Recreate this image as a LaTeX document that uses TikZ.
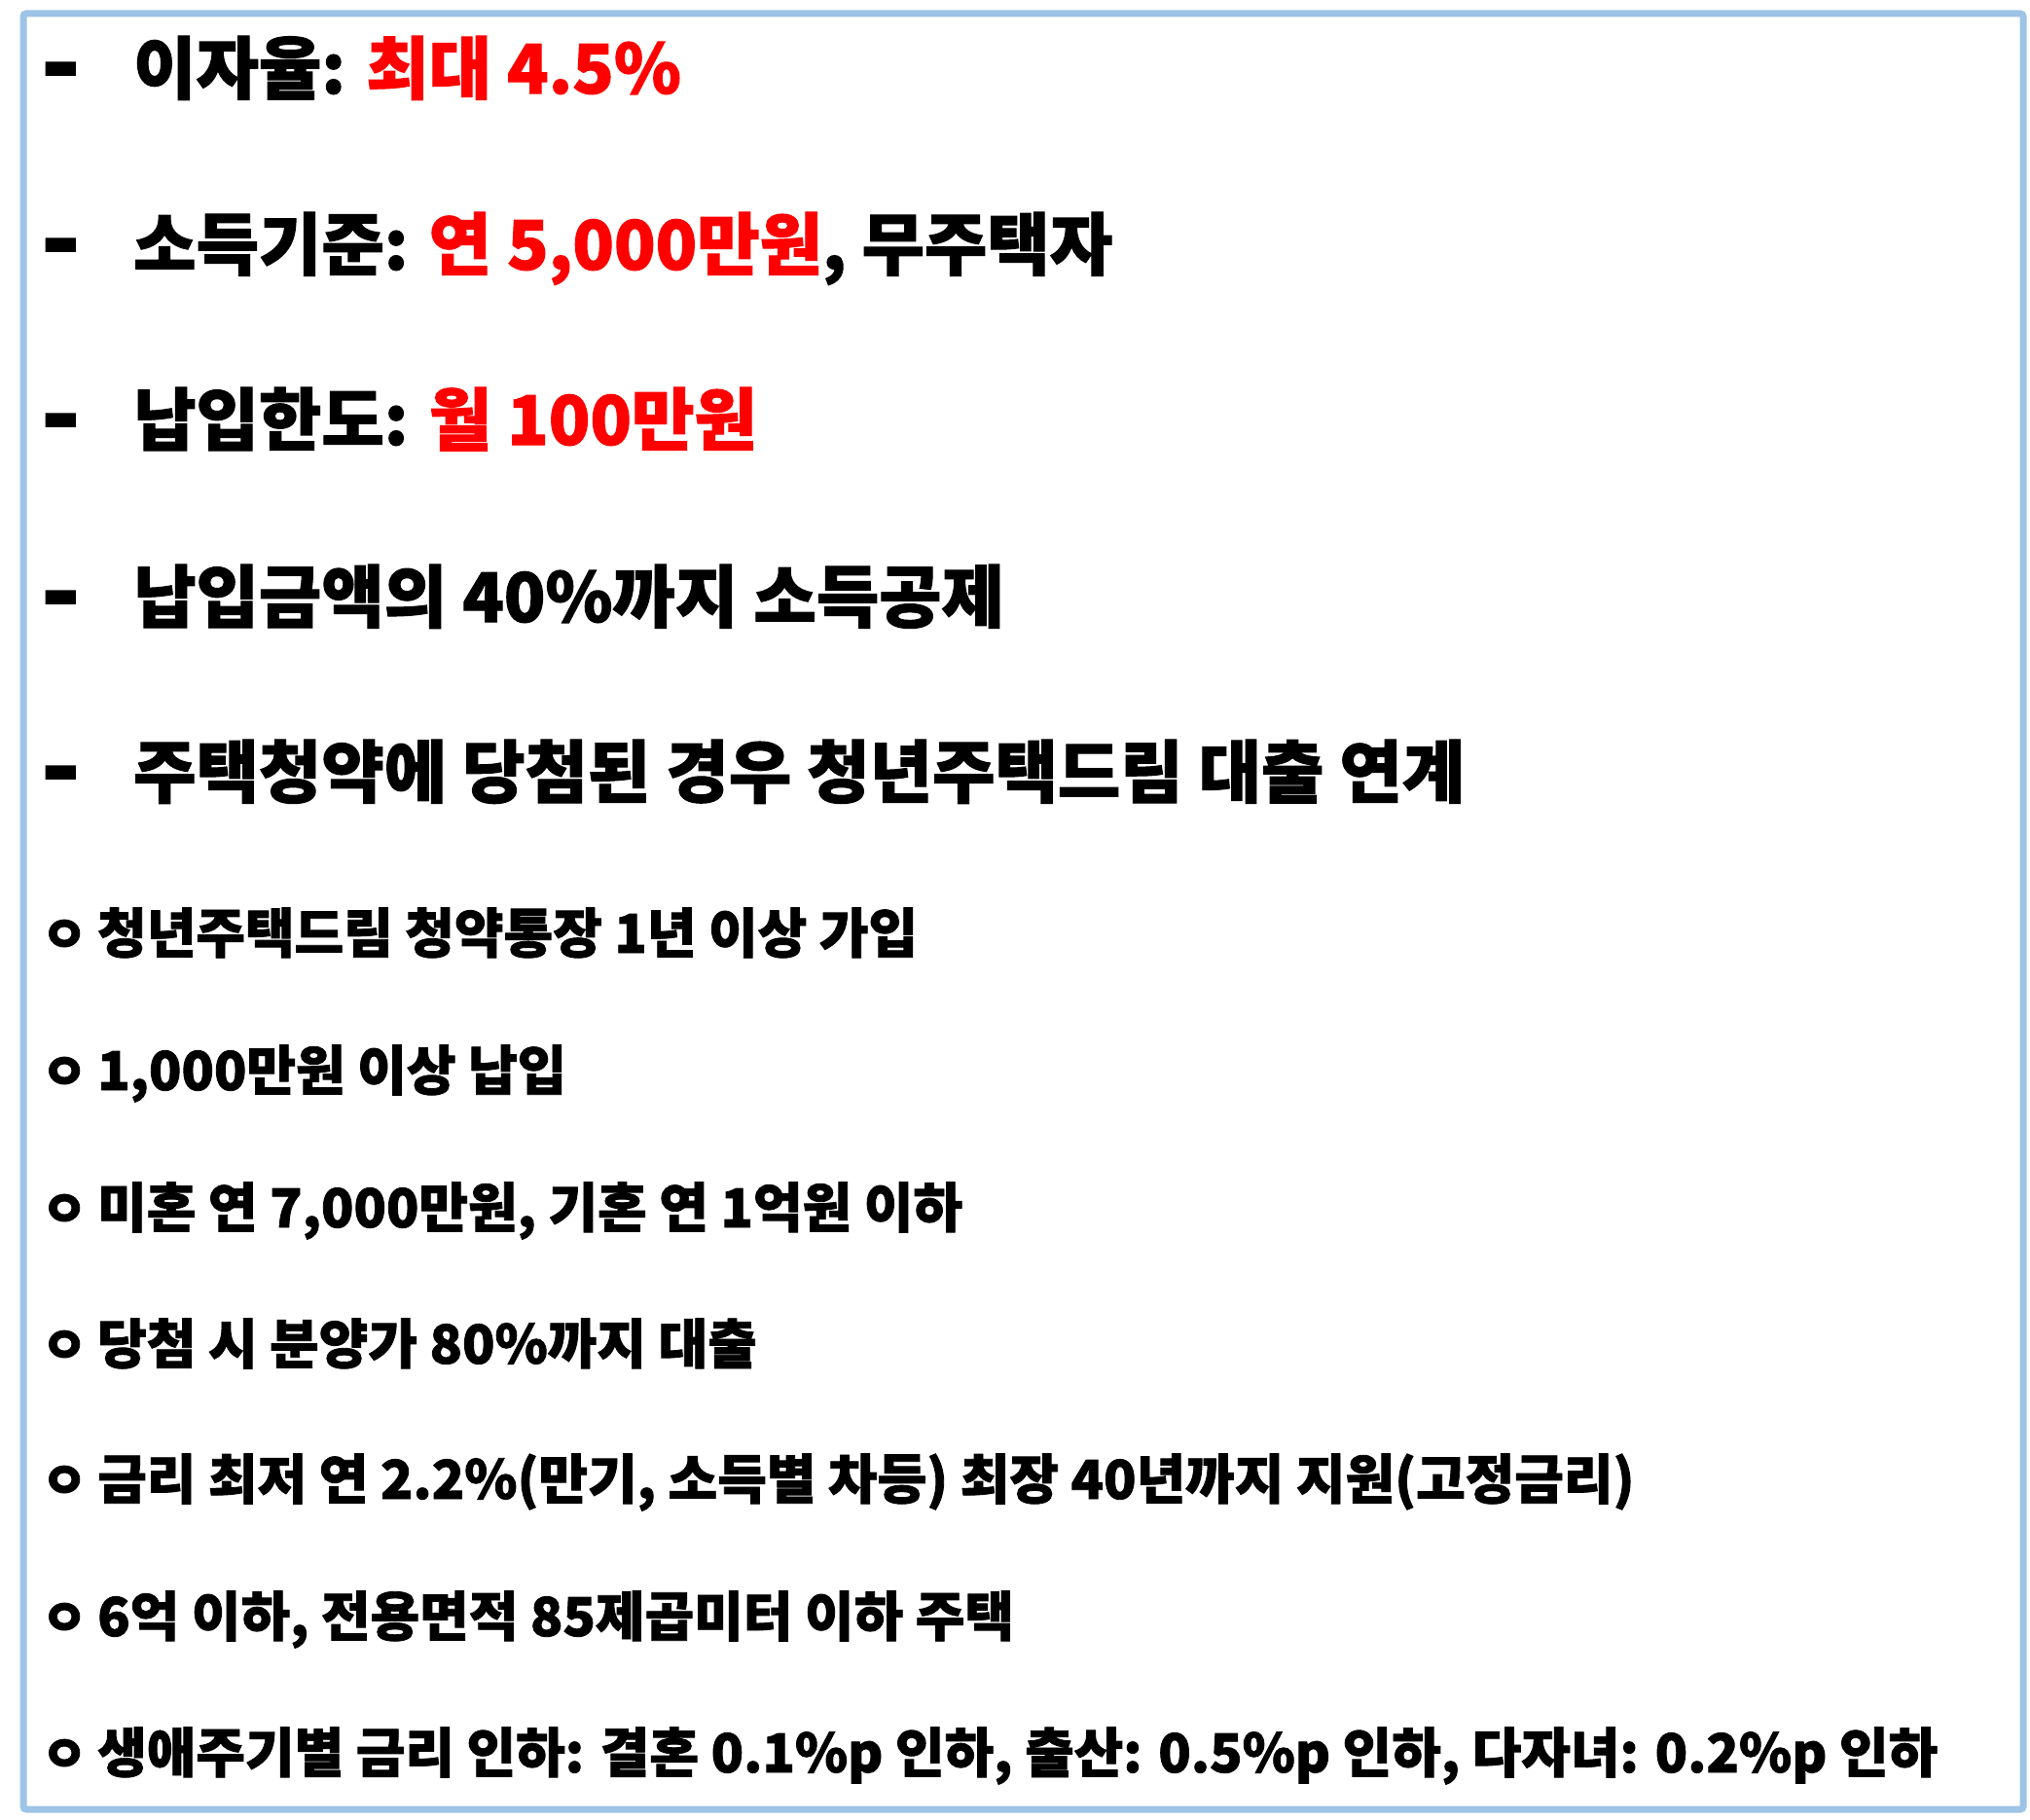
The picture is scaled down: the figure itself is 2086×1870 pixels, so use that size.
\documentclass[tikz,border=0pt]{standalone}
\usepackage{fontspec}
\newfontfamily\krfont{Noto Sans CJK KR}[WordSpace=1.0,BoldFeatures={FakeBold=1.5}]
\definecolor{frameblue}{HTML}{9DC3E6}
\definecolor{hlred}{HTML}{FF0000}
\begin{document}
\begin{tikzpicture}[x=1pt,y=-1pt,
  big/.style={anchor=base west, inner sep=0pt, font=\krfont\bfseries\fontsize{70}{76}\selectfont},
  small/.style={anchor=base west, inner sep=0pt, font=\krfont\bfseries\fontsize{55}{60}\selectfont},
  dashmark/.style={anchor=base west, inner sep=0pt, font=\krfont\bfseries\fontsize{105}{110}\selectfont},
  ring/.style={anchor=base west, inner sep=0pt, font=\krfont\bfseries\fontsize{52}{56}\selectfont},
  frame/.style={draw=frameblue, line width=7pt, rounded corners=3pt}]
\useasboundingbox (0,0) rectangle (2086,1870);
\draw[frame] (24,14) rectangle (2079,1859);
% large lines
\node[dashmark] (d1) at (42,101) {-};
\node[big] (t1) at (137,96) {이자율: \textcolor{hlred}{최대 4.5\%}};
\node[dashmark] (d2) at (42,282) {-};
\node[big] (t2) at (137,277) {소득기준: \textcolor{hlred}{연 5,000만원}, 무주택자};
\node[dashmark] (d3) at (42,462) {-};
\node[big] (t3) at (137,457) {납입한도: \textcolor{hlred}{월 100만원}};
\node[dashmark] (d4) at (42,644) {-};
\node[big] (t4) at (137,639) {납입금액의 40\%까지 소득공제};
\node[dashmark] (d5) at (42,824) {-};
\node[big] (t5) at (137,819) {주택청약에 당첨된 경우 청년주택드림 대출 연계};
% small lines
\node[ring] (b6) at (42,979) {ㅇ};
\node[small] (t6) at (100,979) {청년주택드림 청약통장 1년 이상 가입};
\node[ring] (b7) at (42,1120) {ㅇ};
\node[small] (t7) at (100,1120) {1,000만원 이상 납입};
\node[ring] (b8) at (42,1261) {ㅇ};
\node[small] (t8) at (100,1261) {미혼 연 7,000만원, 기혼 연 1억원 이하};
\node[ring] (b9) at (42,1401) {ㅇ};
\node[small] (t9) at (100,1401) {당첨 시 분양가 80\%까지 대출};
\node[ring] (b10) at (42,1540) {ㅇ};
\node[small] (t10) at (100,1540) {금리 최저 연 2.2\%(만기, 소득별 차등) 최장 40년까지 지원(고정금리)};
\node[ring] (b11) at (42,1681) {ㅇ};
\node[small] (t11) at (100,1681) {6억 이하, 전용면적 85제곱미터 이하 주택};
\node[ring] (b12) at (42,1821) {ㅇ};
\node[small] (t12) at (100,1821) {생애주기별 금리 인하: 결혼 0.1\%p 인하, 출산: 0.5\%p 인하, 다자녀: 0.2\%p 인하};
\end{tikzpicture}
\end{document}
